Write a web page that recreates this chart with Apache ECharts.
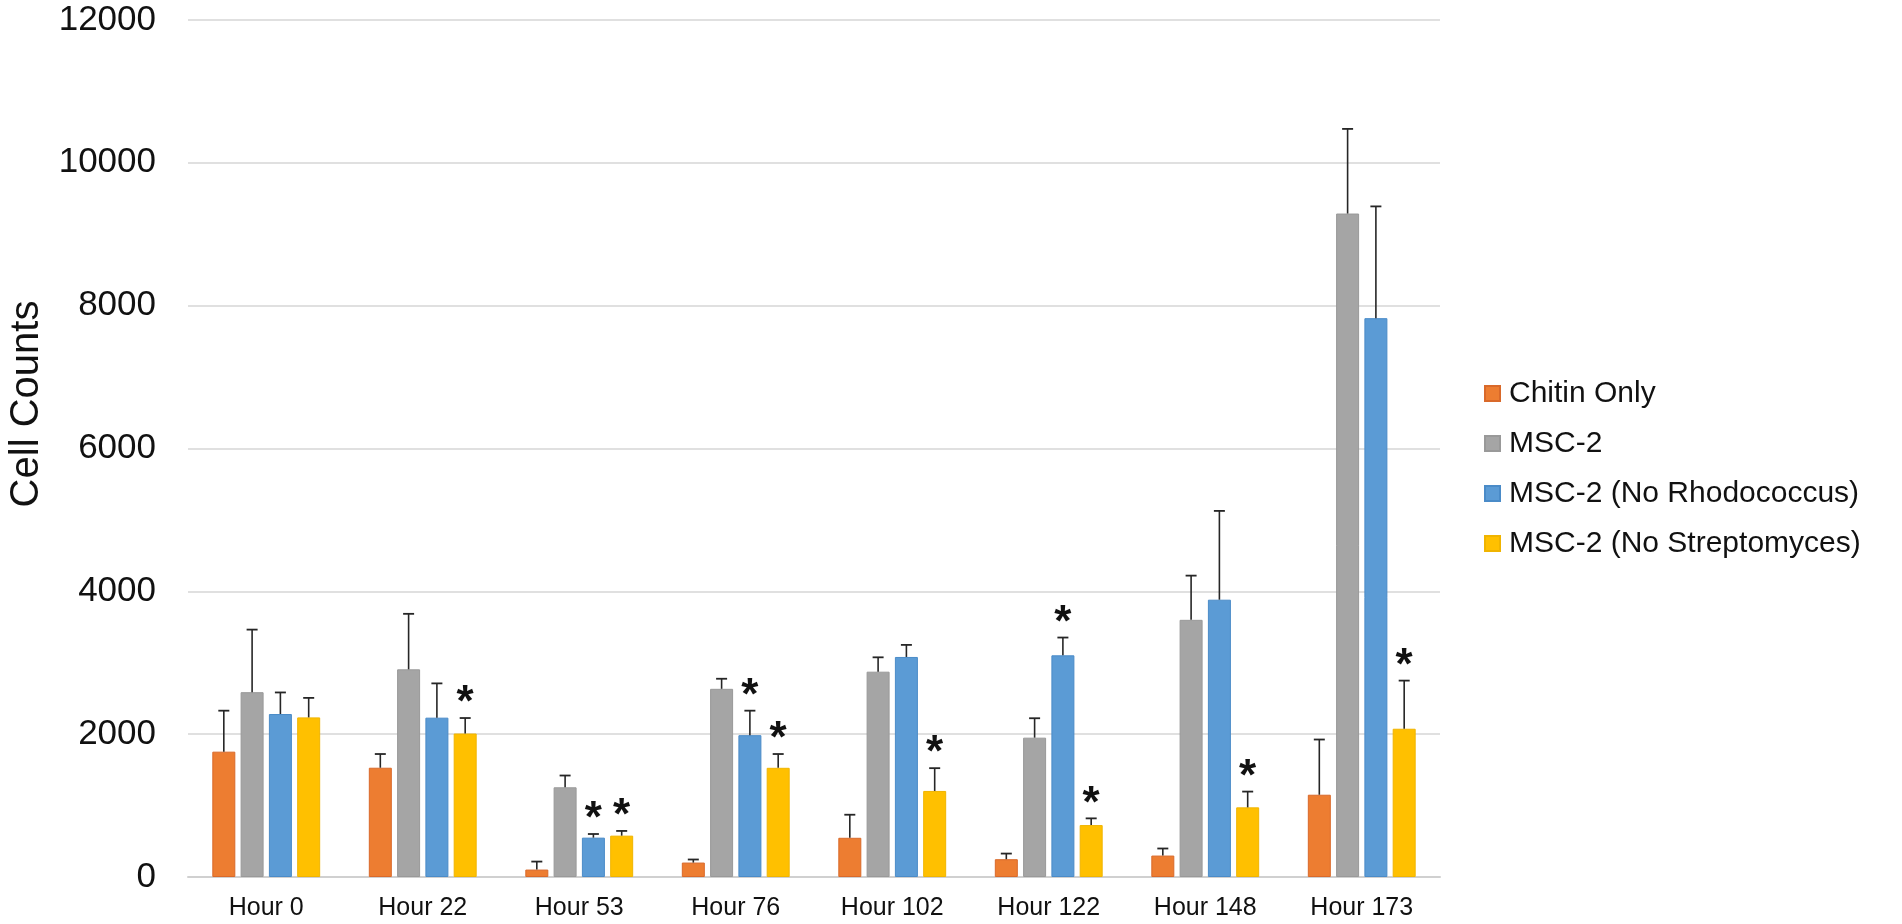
<!DOCTYPE html>
<html>
<head>
<meta charset="utf-8">
<script src="https://cdn.jsdelivr.net/npm/echarts@6/dist/echarts.min.js"></script>
<style>
html,body{margin:0;padding:0;background:#fff;}
#chart{width:1902px;height:924px;}
</style>
</head>
<body>
<div id="chart"></div>
<script>
const categories = ['Hour 0','Hour 22','Hour 53','Hour 76','Hour 102','Hour 122','Hour 148','Hour 173'];
const seriesNames = ['Chitin Only','MSC-2','MSC-2 (No Rhodococcus)','MSC-2 (No Streptomyces)'];
const yAxisTitle = 'Cell Counts';
const chitinOnly      = [1755, 1530, 104, 202, 549, 249, 300, 1152];
const msc2            = [2588, 2908, 1256, 2635, 2875, 1951, 3601, 9290];
const noRhodococcus   = [2282, 2231, 551, 1986, 3081, 3104, 3883, 7825];
const noStreptomyces  = [2235, 2009, 579, 1529, 1205, 727, 975, 2076];
// upper end of each error bar
const chitinOnlyErr     = [2329, 1722, 216, 245, 872, 328, 399, 1925];
const msc2Err           = [3464, 3685, 1421, 2776, 3076, 2223, 4220, 10475];
const noRhodococcusErr  = [2584, 2711, 602, 2329, 3250, 3353, 5126, 9390];
const noStreptomycesErr = [2508, 2226, 645, 1722, 1524, 821, 1196, 2750];
// significance markers (1 = asterisk)
const chitinOnlySig     = [0,0,0,0,0,0,0,0];
const msc2Sig           = [0,0,0,0,0,0,0,0];
const noRhodococcusSig  = [0,0,1,1,0,1,0,0];
const noStreptomycesSig = [0,1,1,1,1,1,1,1];
const yTicks = {min:0, max:12000, interval:2000};

const colors = ['#ED7D31','#A5A5A5','#5B9BD5','#FFC000'];
const borders = ['#D9692A','#999999','#4A8BC8','#F0B400'];
const values = [chitinOnly, msc2, noRhodococcus, noStreptomyces];
const errs = [chitinOnlyErr, msc2Err, noRhodococcusErr, noStreptomycesErr];
const sigs = [chitinOnlySig, msc2Sig, noRhodococcusSig, noStreptomycesSig];

const BAR_W = 23;
const GAP_RATIO = 0.23;
const FONT = 'Liberation Sans, Arial, sans-serif';

const chart = echarts.init(document.getElementById('chart'));

const series = [];
values.forEach((v, i) => {
  series.push({
    name: seriesNames[i],
    type: 'bar',
    data: v,
    barWidth: BAR_W,
    barGap: (GAP_RATIO*100) + '%',
    itemStyle: {color: colors[i], borderColor: borders[i], borderWidth: 1},
    emphasis: {disabled: true},
    z: 2
  });
});
values.forEach((v, i) => {
  series.push({
    type: 'custom',
    name: seriesNames[i],
    data: v.map((val, k) => [k, val, errs[i][k], sigs[i][k]]),
    z: 5,
    silent: true,
    renderItem: function (params, api) {
      const k = api.value(0);
      const lo = api.coord([k, api.value(1)]);
      const hi = api.coord([k, api.value(2)]);
      const step = BAR_W * (1 + GAP_RATIO);
      const x = lo[0] + (i - 1.5) * step;
      const cap = 5.5;
      const children = [
        {type:'line', shape:{x1:x, y1:lo[1], x2:x, y2:hi[1]}, style:{stroke:'#262626', lineWidth:1.6}},
        {type:'line', shape:{x1:x-cap, y1:hi[1], x2:x+cap, y2:hi[1]}, style:{stroke:'#262626', lineWidth:1.8}}
      ];
      if (api.value(3)) {
        children.push({type:'text', x:x, y:hi[1]-14, style:{text:'*', fontSize:44, fontWeight:'bold', fontFamily:FONT, fill:'#111', align:'center', verticalAlign:'middle'}});
      }
      return {type:'group', children:children};
    }
  });
});

chart.setOption({
  animation: false,
  backgroundColor: '#fff',
  grid: {left: 188, right: 462, top: 20, bottom: 47, containLabel: false, outerBoundsMode: 'none'},
  graphic: [{
    type: 'text',
    x: 27, y: 404,
    rotation: Math.PI / 2,
    style: {text: yAxisTitle, fontSize: 40, fontFamily: FONT, fill: '#111', align: 'center', verticalAlign: 'middle'}
  }],
  legend: {
    data: seriesNames,
    orient: 'vertical',
    left: 1479,
    top: 373,
    itemWidth: 15,
    itemHeight: 15,
    itemGap: 19,
    icon: 'rect',
    textStyle: {fontSize: 30, fontFamily: FONT, color: '#111', lineHeight: 31, padding: [0,0,0,4]}
  },
  xAxis: {
    type: 'category',
    data: categories,
    axisLine: {lineStyle: {color: '#D0D0D0', width: 2}},
    axisTick: {show: false},
    axisLabel: {fontSize: 25, fontFamily: FONT, color: '#111', margin: 19}
  },
  yAxis: {
    type: 'value',
    min: yTicks.min, max: yTicks.max, interval: yTicks.interval,
    axisLine: {show: false},
    axisTick: {show: false},
    splitLine: {lineStyle: {color: '#D6D6D6', width: 1.5}},
    axisLabel: {fontSize: 35, fontFamily: FONT, color: '#111', margin: 32, formatter: function (v) { return String(v); }}
  },
  series: series
});
</script>
</body>
</html>
